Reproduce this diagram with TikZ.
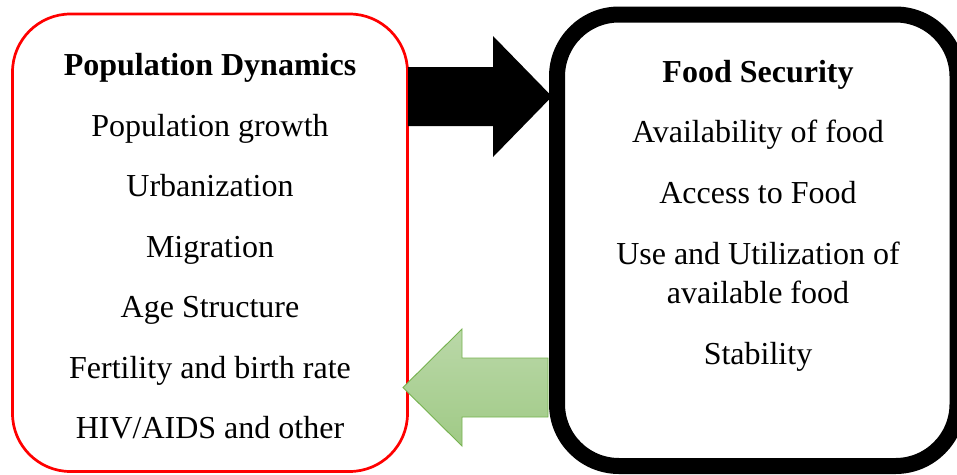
\documentclass[tikz,border=0pt]{standalone}
\usepackage{fontspec}
\setmainfont{Liberation Serif}
\definecolor{arrowgreenTop}{RGB}{186,216,168}
\definecolor{arrowgreenBot}{RGB}{160,202,134}
\definecolor{arrowgreenLine}{RGB}{118,178,80}
\tikzset{
  txt/.style={anchor=base, inner sep=0pt, font=\fontsize{32}{38}\selectfont},
  hdr/.style={txt, font=\fontsize{32}{38}\selectfont\bfseries},
  redbox/.style={draw=red, line width=2.7pt, rounded corners=58pt, inner sep=0pt, rectangle},
  blackbox/.style={draw=black, line width=16pt, rounded corners=62pt, inner sep=0pt, rectangle},
}
\begin{document}
\begin{tikzpicture}[x=1pt, y=-1pt]
\useasboundingbox (0,0) rectangle (957,474);
% boxes
\node[redbox, minimum width=395pt, minimum height=457.5pt] (left) at (210,242.75) {};
\node[blackbox, minimum width=400.5pt, minimum height=451.5pt] (right) at (757.25,240.25) {};
% black arrow (left -> right)
\fill[black] (408,67) -- (493,67) -- (493,36) -- (552,96.5) -- (493,157) -- (493,126) -- (408,126) -- cycle;
% green arrow (right -> left)
\shade[top color=arrowgreenTop, bottom color=arrowgreenBot, draw=arrowgreenLine, line width=0.9pt]
  (548,358) -- (462,358) -- (462,329) -- (403,387.5) -- (462,446) -- (462,417) -- (548,417) -- cycle;
% left texts
\node[hdr] (l0) at (210,75.5) {Population Dynamics};
\node[txt] (l1) at (210,136) {Population growth};
\node[txt] (l2) at (210,196.5) {Urbanization};
\node[txt] (l3) at (210,257) {Migration};
\node[txt] (l4) at (210,317.5) {Age Structure};
\node[txt] (l5) at (210,378) {Fertility and birth rate};
\node[txt] (l6) at (210,438.5) {HIV/AIDS and other};
% right texts
\node[hdr] (r0) at (758,82) {Food Security};
\node[txt] (r1) at (758,142) {Availability of food};
\node[txt] (r2) at (758,203) {Access to Food};
\node[txt] (r3) at (758,264) {Use and Utilization of};
\node[txt] (r4) at (758,303.5) {available food};
\node[txt] (r5) at (758,364) {Stability};
\end{tikzpicture}
\end{document}
